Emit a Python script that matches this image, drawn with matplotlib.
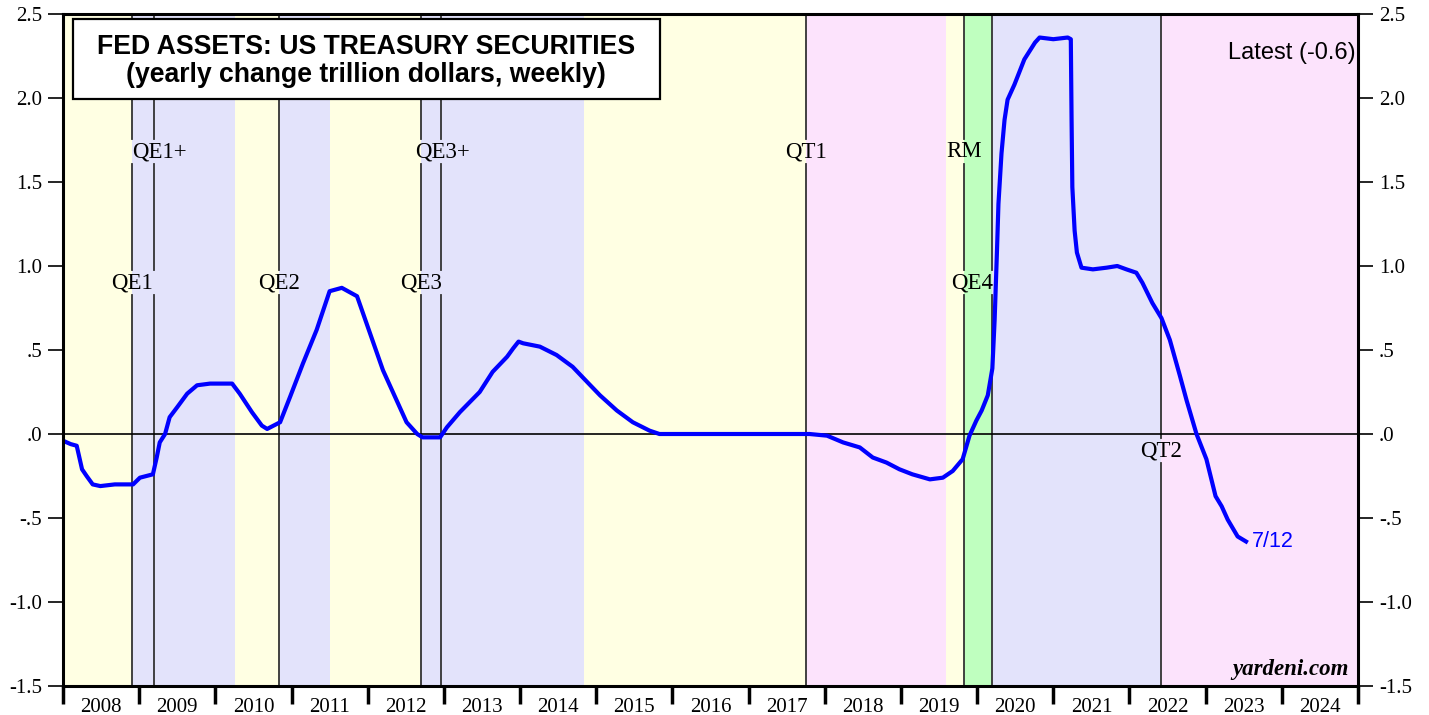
import matplotlib
matplotlib.use("Agg")
import matplotlib.pyplot as plt
from matplotlib.patches import Rectangle

# ---- data (decimal years, trillion dollars) ----
dates = [2008.00, 2008.10, 2008.18, 2008.25, 2008.31, 2008.39, 2008.49, 2008.68, 2008.92,
         2009.01, 2009.18, 2009.23, 2009.27, 2009.34, 2009.40, 2009.50, 2009.63, 2009.76, 2009.93,
         2010.22, 2010.32, 2010.48, 2010.61, 2010.68, 2010.85, 2010.98,
         2011.15, 2011.33, 2011.50, 2011.66, 2011.86,
         2012.03, 2012.20, 2012.38, 2012.51, 2012.65, 2012.72, 2012.95,
         2013.04, 2013.21, 2013.47, 2013.64, 2013.83, 2013.91, 2013.98,
         2014.04, 2014.26, 2014.48, 2014.69, 2014.88,
         2015.05, 2015.27, 2015.48, 2015.70, 2015.83,
         2016.50, 2017.20, 2017.80,
         2018.03, 2018.24, 2018.46, 2018.63, 2018.81, 2018.98,
         2019.15, 2019.38, 2019.55, 2019.68, 2019.81, 2019.90, 2019.99,
         2020.06, 2020.14, 2020.20, 2020.23, 2020.26, 2020.28, 2020.32, 2020.36, 2020.40,
         2020.49, 2020.62, 2020.76, 2020.82,
         2021.00, 2021.19, 2021.23, 2021.24, 2021.25, 2021.28, 2021.31, 2021.37, 2021.52,
         2021.70, 2021.84, 2021.96,
         2022.09, 2022.17, 2022.30, 2022.42, 2022.53, 2022.66, 2022.75, 2022.88,
         2023.01, 2023.13, 2023.21, 2023.29, 2023.42, 2023.53]
values = [-0.04, -0.06, -0.07, -0.21, -0.25, -0.30, -0.31, -0.30, -0.30,
          -0.26, -0.24, -0.14, -0.05, 0.00, 0.10, 0.16, 0.24, 0.29, 0.30,
          0.30, 0.24, 0.13, 0.05, 0.03, 0.07, 0.22,
          0.42, 0.62, 0.85, 0.87, 0.82,
          0.60, 0.38, 0.20, 0.07, 0.00, -0.02, -0.02,
          0.04, 0.13, 0.25, 0.37, 0.46, 0.51, 0.55,
          0.54, 0.52, 0.47, 0.40, 0.31,
          0.23, 0.14, 0.07, 0.02, 0.00,
          0.00, 0.00, 0.00,
          -0.01, -0.05, -0.08, -0.14, -0.17, -0.21,
          -0.24, -0.27, -0.26, -0.22, -0.15, -0.01, 0.08,
          0.14, 0.23, 0.39, 0.68, 1.08, 1.37, 1.67, 1.87, 1.99,
          2.08, 2.23, 2.33, 2.36,
          2.35, 2.36, 2.35, 1.87, 1.47, 1.21, 1.08, 0.99, 0.98,
          0.99, 1.00, 0.98,
          0.96, 0.90, 0.78, 0.69, 0.56, 0.35, 0.20, 0.00,
          -0.15, -0.37, -0.43, -0.51, -0.61, -0.64]

# shaded policy regimes
band_starts = [2008.00, 2008.90, 2010.26, 2010.84, 2011.50, 2012.70, 2014.84, 2017.75, 2019.59, 2019.83, 2020.20, 2022.42]
band_ends = [2008.90, 2010.26, 2010.84, 2011.50, 2012.70, 2014.84, 2017.75, 2019.59, 2019.83, 2020.20, 2022.42, 2025.00]
band_kinds = ["Y", "L", "Y", "L", "Y", "L", "Y", "P", "Y", "G", "L", "P"]

# event lines and labels
event_names = ["QE1", "QE1+", "QE2", "QE3", "QE3+", "QT1", "RM", "QE4", "QT2"]
event_dates = [2008.90, 2009.20, 2010.84, 2012.70, 2012.96, 2017.75, 2019.83, 2020.20, 2022.42]
event_label_x = [2008.90, 2009.26, 2010.84, 2012.70, 2012.98, 2017.75, 2019.83, 2019.94, 2022.42]
event_label_y = [0.90, 1.68, 0.90, 0.90, 1.68, 1.68, 1.68, 0.90, -0.10]

years = list(range(2008, 2025))
yticks = [2.5, 2.0, 1.5, 1.0, 0.5, 0.0, -0.5, -1.0, -1.5]
ytick_labels = ["2.5", "2.0", "1.5", "1.0", ".5", ".0", "-.5", "-1.0", "-1.5"]

colors = {"Y": "#FFFFE3", "L": "#E3E3FB", "P": "#FCE3FC", "G": "#BFFFBF"}

W, H = 1429, 715
fig = plt.figure(figsize=(W / 100, H / 100), dpi=100)
ax = fig.add_axes([63 / W, 1 - 686 / H, (1358 - 63) / W, (686 - 14) / H])

serif = "Liberation Serif"
sans = "Liberation Sans"

ax.set_xlim(2008.0, 2025.0)
ax.set_ylim(-1.5, 2.5)

for s, e, k in zip(band_starts, band_ends, band_kinds):
    ax.axvspan(s, e, color=colors[k], lw=0, zorder=0)

# event lines, interrupted where a label sits on them
gap = 0.075
for d in event_dates:
    cuts = []
    for name, lx, ly in zip(event_names, event_label_x, event_label_y):
        half_w = 0.105 * len(name)
        if abs(lx - d) < half_w:
            cuts.append(ly)
    cuts.sort()
    y0 = -1.5
    for c in cuts:
        ax.plot([d, d], [y0, c - gap], color="#333333", lw=1.3, zorder=1)
        y0 = c + gap
    ax.plot([d, d], [y0, 2.5], color="#333333", lw=1.3, zorder=1)

for name, lx, ly in zip(event_names, event_label_x, event_label_y):
    ax.text(lx, ly, name, ha="center", va="center", fontsize=16.5, family=serif, zorder=2)

ax.axhline(0, color="black", lw=1.2, zorder=2)

ax.plot(dates, values, color="#0000FF", lw=3.0, zorder=4, solid_joinstyle="round")

# annotations
ax.text(dates[-1] + 0.08, values[-1], "7/12", color="#0000FF", fontsize=15.5, family=sans,
        ha="left", va="center", zorder=5)
ax.text(0.9985, 0.942, "Latest (-0.6)", transform=ax.transAxes, ha="right", va="center",
        fontsize=17, family=sans, zorder=5)
ax.text(0.9925, 0.025, "yardeni.com", transform=ax.transAxes, ha="right", va="center",
        fontsize=16.5, family=serif, weight="bold", style="italic", zorder=5)

ax.add_patch(Rectangle((0.0077, 0.8735), 0.453, 0.119, transform=ax.transAxes,
                       fc="white", ec="black", lw=1.6, zorder=6))
ax.text(0.234, 0.951, "FED ASSETS: US TREASURY SECURITIES", transform=ax.transAxes,
        ha="center", va="center", fontsize=19.2, weight="bold", family=sans, zorder=7)
ax.text(0.234, 0.909, "(yearly change trillion dollars, weekly)", transform=ax.transAxes,
        ha="center", va="center", fontsize=19.2, weight="bold", family=sans, zorder=7)

# y axis both sides
ax.set_yticks(yticks)
ax.set_yticklabels(ytick_labels, family=serif, fontsize=15)
ax.tick_params(axis="y", which="major", direction="out", length=11, width=1.2, pad=4,
               left=True, right=True, labelleft=True, labelright=True)
for lab in ax.get_yticklabels(which="major"):
    lab.set_family(serif)

# x axis: ticks at year starts, labels mid-year
ax.set_xticks([y for y in years] + [2025])
ax.set_xticklabels([])
ax.set_xticks([y + 0.5 for y in years], minor=True)
ax.set_xticklabels([str(y) for y in years], minor=True, family=serif, fontsize=15)
ax.tick_params(axis="x", which="major", direction="out", length=13, width=2.5)
ax.tick_params(axis="x", which="minor", length=0, pad=9)

for sp in ax.spines.values():
    sp.set_linewidth(2.2)
    sp.set_zorder(8)

fig.savefig("out.png", dpi=100)
